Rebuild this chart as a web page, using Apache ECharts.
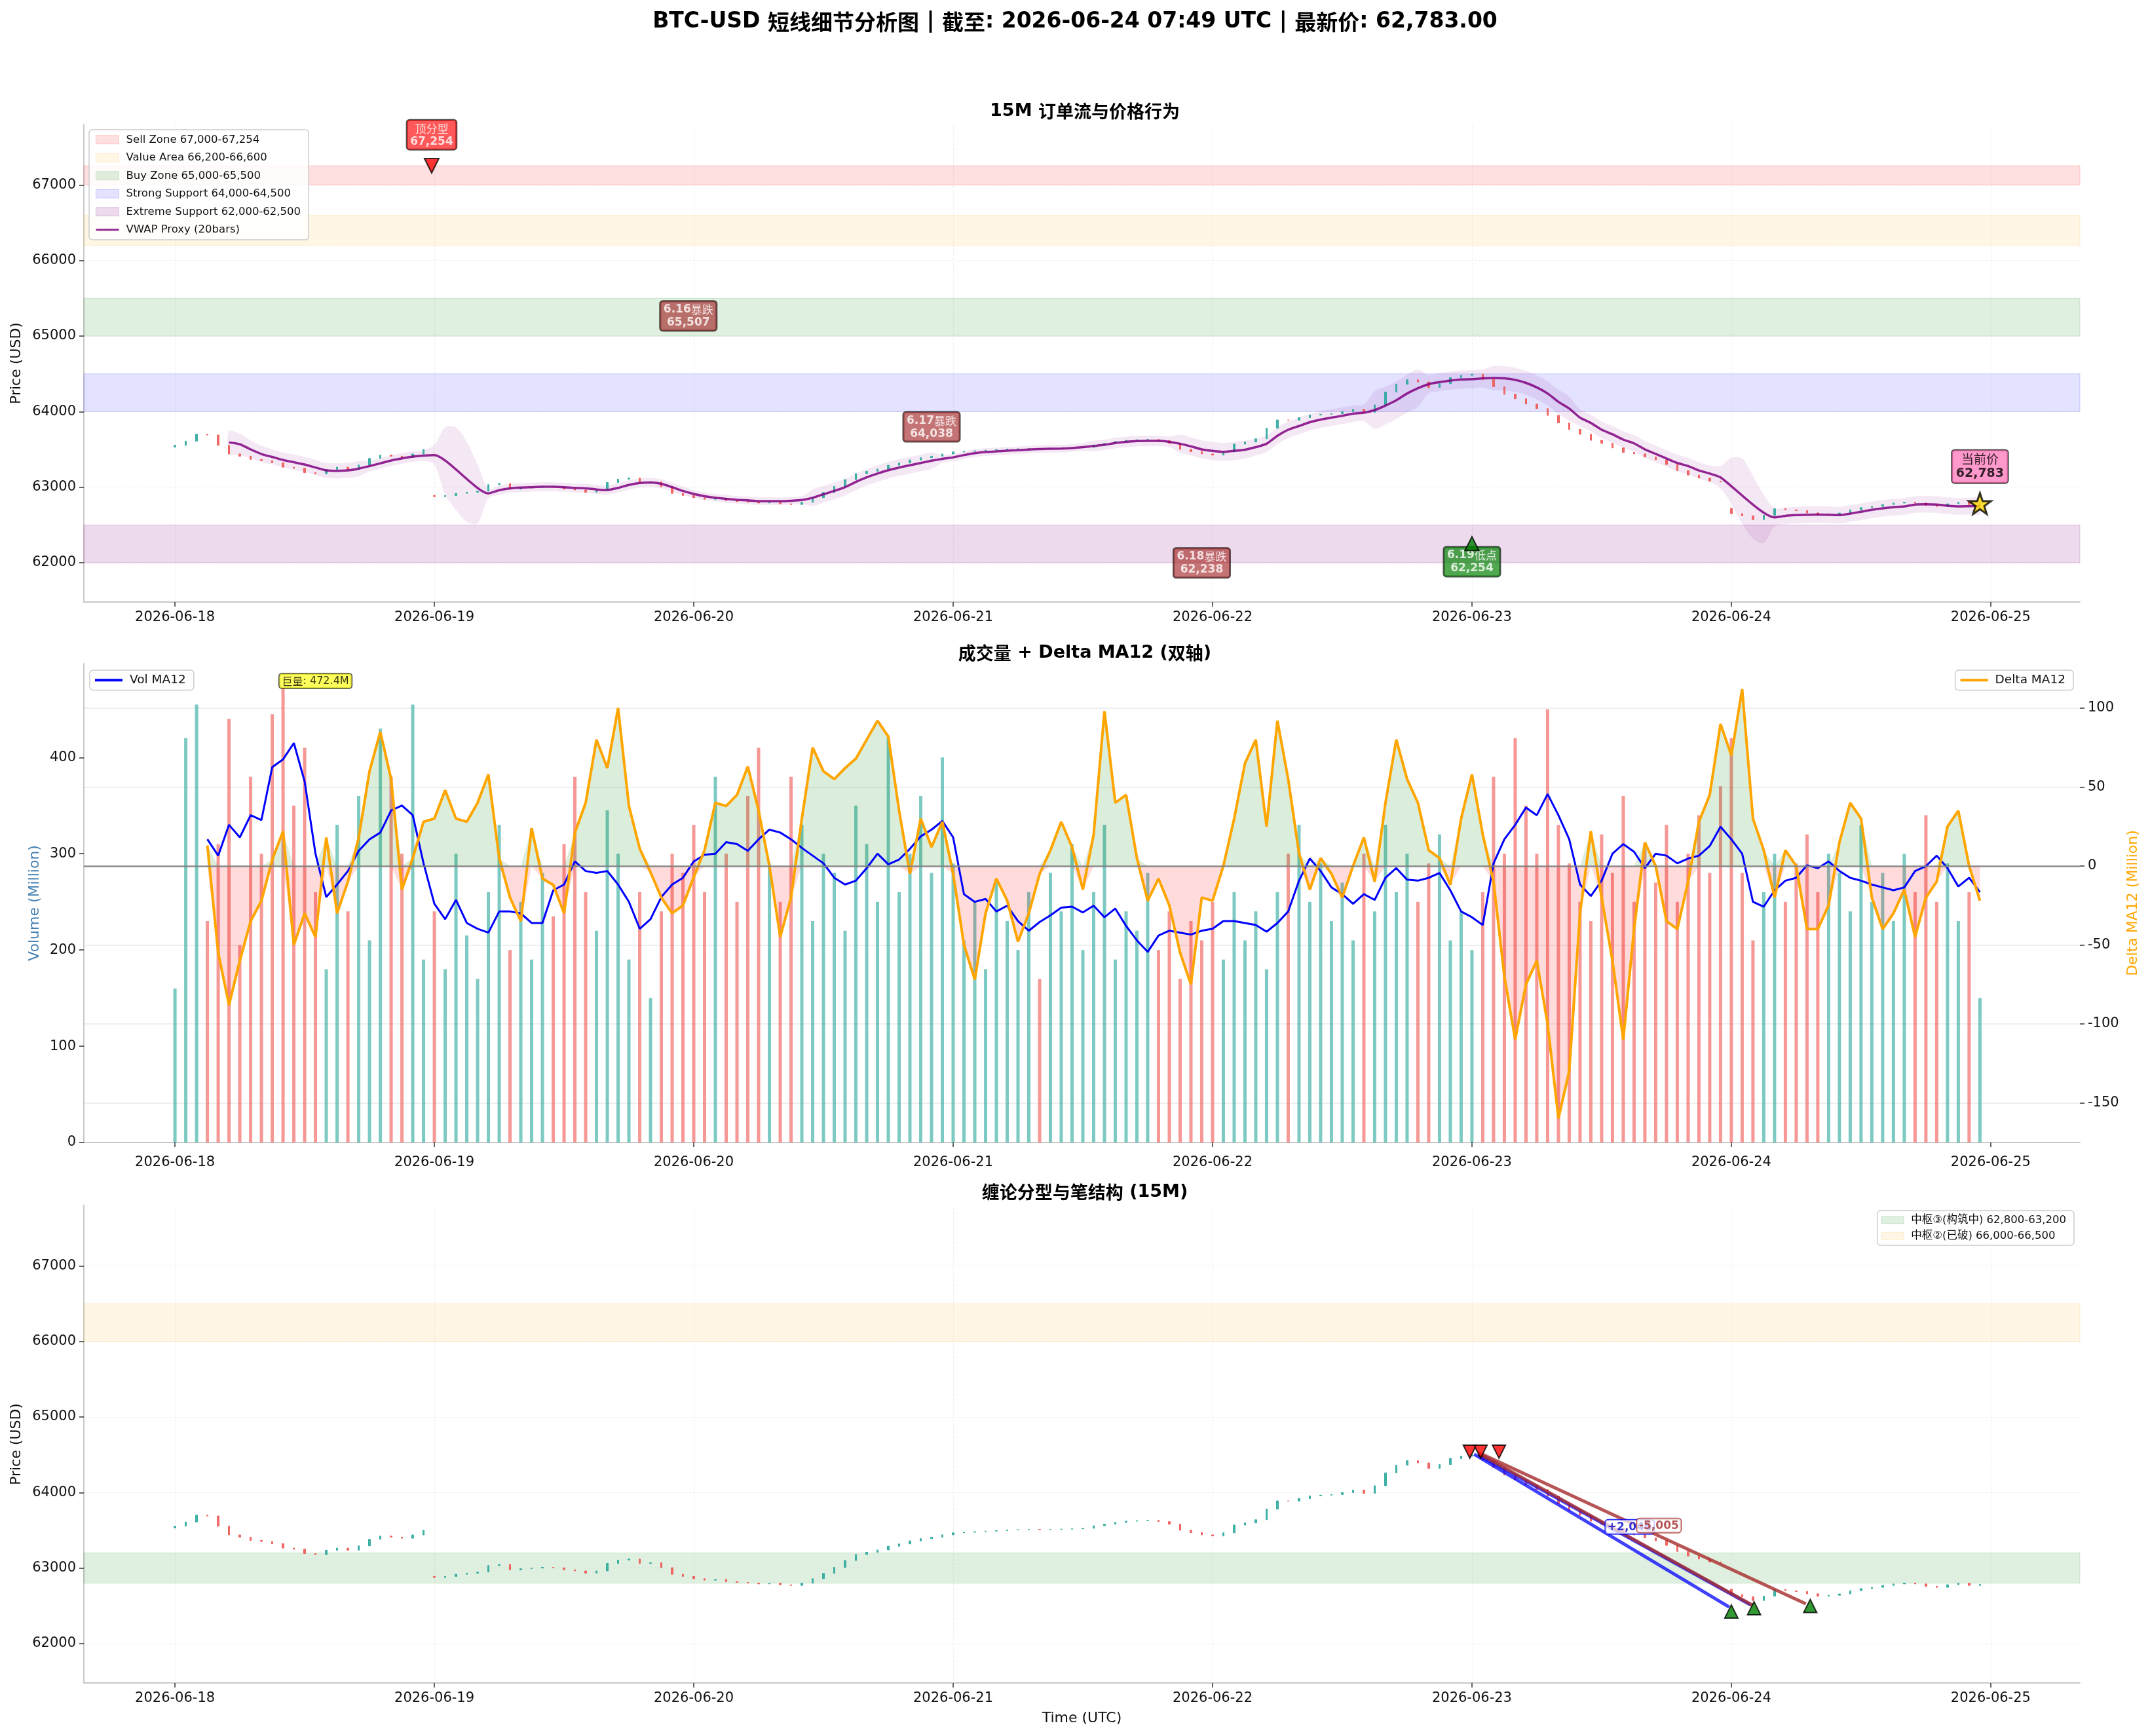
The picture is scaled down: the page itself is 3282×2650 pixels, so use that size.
<!DOCTYPE html>
<html lang="zh-CN">
<head>
<meta charset="utf-8">
<title>BTC-USD 短线细节分析图</title>
<script src="https://cdn.jsdelivr.net/npm/echarts@6.0.0/dist/echarts.min.js"></script>
<style>
  html, body { margin: 0; padding: 0; background: #ffffff; }
  #main { width: 3282px; height: 2650px; }
</style>
</head>
<body>
<div id="main"></div>
<script>
// x = hours since 2026-06-18 00:00 UTC (one bar per hour)
const dayTicks = [0, 24, 48, 72, 96, 120, 144, 168];
const dayLabels = ['2026-06-18', '2026-06-19', '2026-06-20', '2026-06-21', '2026-06-22', '2026-06-23', '2026-06-24', '2026-06-25'];
const priceTicks = [62000, 63000, 64000, 65000, 66000, 67000];
const volTicks = [0, 100, 200, 300, 400];
const deltaTicks = [-150, -100, -50, 0, 50, 100];

const firstOpen = 63530;
const closes = [
  63554, 63610, 63700, 63690, 63554, 63439, 63410, 63366, 63352, 63323, 63265, 63250, 63192, 63178, 63236, 63265, 63236, 63294, 63381, 63424, 63410, 63395, 63439, 63500,
  62875, 62890, 62918, 62933, 62947, 63034, 63048, 62976, 62991, 63000, 63010, 63003, 62976, 62962, 62933, 62962, 63062, 63106, 63120, 63062, 63070, 63005, 62918, 62890,
  62860, 62840, 62850, 62820, 62810, 62800, 62790, 62800, 62780, 62770, 62800, 62860, 62930, 63010, 63100, 63180, 63210, 63240, 63290, 63320, 63360, 63390, 63410, 63440,
  63467, 63475, 63482, 63490, 63496, 63505, 63508, 63513, 63509, 63514, 63515, 63520, 63526, 63560, 63580, 63605, 63620, 63627, 63632, 63615, 63580, 63500, 63470, 63440,
  63424, 63467, 63570, 63598, 63640, 63780, 63890, 63887, 63920, 63955, 63965, 63973, 64000, 64031, 63990, 64090, 64260, 64363, 64421, 64392, 64320, 64370, 64450, 64480,
  64494, 64426, 64330, 64230, 64170, 64100, 64040, 63950, 63850, 63764, 63700, 63620, 63580, 63520, 63460, 63440, 63400, 63362, 63300, 63220, 63160, 63120, 63080, 63070,
  62650, 62620, 62571, 62629, 62716, 62700, 62690, 62660, 62629, 62640, 62658, 62700, 62730, 62745, 62770, 62790, 62802, 62790, 62760, 62745, 62780, 62800, 62770, 62783
];
// bars that open after a data gap
const gapBars = [24, 144];
const gapOpens = [62890, 62720];

const volumes = [
  160, 420, 455, 230, 310, 440, 205, 380, 300, 445, 472.4, 350, 410, 260, 180, 330, 240, 360, 210, 430, 380, 300, 455, 190,
  240, 180, 300, 215, 170, 260, 330, 200, 250, 190, 280, 235, 310, 380, 260, 220, 345, 300, 190, 260, 150, 240, 300, 280,
  330, 260, 380, 300, 250, 360, 410, 290, 250, 380, 330, 230, 300, 280, 220, 350, 310, 250, 420, 260, 300, 360, 280, 400,
  290, 210, 250, 180, 270, 230, 200, 260, 170, 280, 240, 310, 200, 260, 330, 190, 240, 220, 280, 200, 240, 170, 230, 210,
  250, 190, 260, 210, 240, 180, 260, 300, 330, 250, 290, 230, 270, 210, 300, 240, 330, 260, 300, 250, 290, 320, 210, 240,
  200, 260, 380, 300, 420, 350, 300, 450, 330, 290, 250, 230, 320, 280, 360, 250, 310, 270, 330, 250, 300, 340, 280, 370,
  420, 280, 210, 260, 300, 250, 290, 320, 260, 300, 280, 240, 330, 250, 280, 230, 300, 260, 340, 250, 290, 230, 260, 150
];

const volMA = [
  null, null, null, 315, 298, 330, 317, 340, 335, 390, 398, 415, 375, 300, 255, 268, 282, 303, 315, 322, 345, 350, 340, 290,
  248, 232, 252, 228, 222, 218, 240, 240, 238, 228, 228, 262, 268, 292, 282, 280, 282, 268, 250, 222, 232, 255, 268, 275,
  292, 299, 300, 312, 310, 303, 315, 325, 322, 315, 306, 298, 290, 275, 268, 272, 285, 300, 289, 294, 305, 318, 325, 334,
  317, 258, 250, 253, 240, 246, 230, 220, 229, 236, 244, 245, 239, 246, 234, 243, 225, 210, 198, 215, 220, 218, 216, 220,
  222, 230, 230, 228, 226, 219, 228, 240, 272, 295, 282, 265, 258, 248, 258, 252, 275, 285, 273, 272, 275, 280, 262, 240,
  234, 226, 290, 315, 330, 348, 340, 362, 340, 315, 268, 256, 272, 300, 310, 302, 285, 300, 298, 290, 295, 298, 308, 328,
  315, 300, 250, 245, 262, 272, 275, 288, 285, 292, 282, 275, 272, 268, 265, 262, 265, 282, 287, 298, 285, 266, 275, 260
];

const deltaMA = [
  null, null, null, 13, -55, -88, -60, -35, -22, 4, 22, -50, -30, -45, 18, -30, -10, 18, 60, 85, 55, -15, 5, 28,
  30, 48, 30, 28, 40, 58, 5, -20, -35, 24, -8, -12, -30, 21, 40, 80, 62, 100, 38, 11, -4, -20, -30, -25,
  -7, 10, 40, 38, 45, 63, 35, 0, -45, -20, 30, 75, 60, 55, 62, 68, 80, 92, 82, 35, -5, 30, 12, 28,
  -5, -50, -72, -30, -8, -22, -48, -30, -5, 10, 28, 12, -15, 20, 98, 40, 45, 5, -22, -8, -25, -55, -75, -20,
  -22, 0, 30, 65, 80, 25, 92, 55, 8, -15, 5, -5, -20, 0, 18, -10, 40, 80, 55, 40, 10, 5, -12, 30,
  58, 20, -10, -70, -110, -75, -60, -100, -160, -130, -30, 22, -20, -60, -110, -40, 15, 0, -35, -40, -10, 28, 45, 90,
  70, 112, 30, 10, -20, 10, 0, -40, -40, -25, 15, 40, 30, -20, -40, -30, -15, -45, -20, -10, 25, 35, 0, -22
];

// VWAP proxy (20 bars); null where the rolling window spans a data gap
const vwap = [
  null, null, null, null, null, 63592, 63568, 63500, 63439, 63400, 63360, 63330, 63300, 63260, 63222, 63215, 63222, 63245, 63279, 63315, 63352, 63380, 63404, 63418,
  63424, null, null, null, null, 62918, 62960, 62985, 62995, 63000, 63005, 63005, 63000, 62990, 62985, 62970, 62962, 62990, 63030, 63055, 63062, 63045, 63000, 62950,
  62910, 62880, 62860, 62845, 62833, 62825, 62815, 62815, 62815, 62820, 62830, 62860, 62906, 62950, 63000, 63070, 63130, 63180, 63225, 63260, 63290, 63320, 63350, 63375,
  63395, 63425, 63450, 63465, 63473, 63482, 63490, 63498, 63505, 63508, 63511, 63518, 63530, 63545, 63560, 63585, 63600, 63610, 63612, 63612, 63600, 63575, 63540, 63500,
  63480, 63467, 63480, 63496, 63530, 63575, 63680, 63760, 63810, 63860, 63895, 63920, 63945, 63973, 63985, 64020, 64080, 64150, 64240, 64310, 64363, 64390, 64410, 64425,
  64430, 64440, 64445, 64440, 64420, 64380, 64320, 64240, 64130, 64040, 63920, 63850, 63760, 63700, 63630, 63580, 63500, 63440, 63380, 63320, 63280, 63222, 63180, 63130,
  null, null, null, null, 62600, 62620, 62630, 62635, 62638, 62635, 62630, 62650, 62675, 62700, 62720, 62735, 62745, 62770, 62774, 62770, 62755, 62745, 62748, 62751
];
// half width of the shaded band around the VWAP
const bandHalf = [
  null, null, null, null, null, 150, 140, 120, 110, 100, 100, 100, 100, 100, 100, 100, 100, 100, 70, 70, 70, 70, 70, 70,
  70, null, null, null, null, 60, 60, 60, 60, 60, 60, 60, 60, 60, 60, 60, 60, 60, 60, 60, 60, 60, 60, 60,
  50, 50, 50, 50, 50, 50, 50, 50, 50, 50, 50, 110, 110, 110, 110, 110, 110, 110, 110, 110, 110, 110, 110, 50,
  50, 50, 50, 50, 50, 50, 50, 50, 50, 50, 50, 50, 50, 70, 70, 70, 70, 70, 70, 70, 70, 120, 120, 120,
  120, 120, 120, 120, 110, 110, 110, 110, 110, 110, 110, 110, 110, 110, 110, 250, 250, 250, 250, 250, 120, 120, 120, 120,
  120, 120, 160, 160, 160, 160, 160, 160, 160, 160, 110, 110, 110, 110, 110, 110, 110, 110, 110, 110, 110, 110, 110, 150,
  null, null, null, null, 110, 110, 110, 110, 110, 110, 110, 110, 110, 110, 110, 110, 110, 110, 110, 110, 110, 110, 110, 110
];
// band bulges across the two data gaps
const bulgeHours = [24, 25, 26, 27, 28, 29, 143, 144, 145, 146, 147, 148];
const bulgeUp = [63560, 63790, 63790, 63600, 63300, 62980, 63280, 63390, 63380, 63150, 62900, 62720];
const bulgeLo = [63300, 62900, 62700, 62540, 62520, 62850, 62980, 62780, 62520, 62320, 62260, 62480];

// price zones, panel 1
const zoneTitles = ['Sell Zone', 'Value Area', 'Buy Zone', 'Strong Support', 'Extreme Support'];
const zoneLow = [67000, 66200, 65000, 64000, 62000];
const zoneHigh = [67254, 66600, 65500, 64500, 62500];
// pivot zones, panel 3
const pivotTitles = ['中枢③(构筑中)', '中枢②(已破)'];
const pivotLow = [62800, 66000];
const pivotHigh = [63200, 66500];

// event notes, panel 1
const eventDates = ['6.16', '6.17', '6.18', '6.19'];
const eventTags = ['暴跌', '暴跌', '暴跌', '低点'];
const eventPrices = [65507, 64038, 62238, 62254];
const eventHours = [47.5, 70, 95, 120];
const topFractalHour = 23.75;
const topFractalPrice = 67254;

// chan fractals and strokes, panel 3
const topFxHours = [119.8, 120.8, 122.5];
const topFxPrices = [64541, 64541, 64541];
const botFxHours = [144, 146.1, 151.3];
const botFxPrices = [62426, 62469, 62498];
const biStartHours = [120.2, 120.6, 120.6, 120.9];
const biStartPrices = [64507, 64498, 64518, 64510];
const biEndHours = [143.8, 145.8, 146.0, 150.9];
const biEndPrices = [62484, 62512, 62505, 62527];
const biKinds = ['up', 'up', 'down', 'down'];
const biTexts = ['+2,046', '-5,005'];
const biTextHours = [134.6, 137.3];
const biTextPrices = [63546, 63563];

// ---------- layout / style ----------
const X_MIN = -8.43, X_MAX = 176.25;
const P_MIN = 61480, P_MAX = 67800;
const V_MAX = 497.5;
const D_MIN = -175.2, D_MAX = 128.2;
const LAT = '"DejaVu Sans", sans-serif';
const CJK = '"Noto Sans CJK SC", sans-serif';
const MIX = '"DejaVu Sans", "Noto Sans CJK SC", sans-serif';
const LINE_ICON = 'path://M0,0 H100 V9 H0 Z';
const zoneFill = ['rgba(255,0,0,0.12)', 'rgba(255,165,0,0.10)', 'rgba(0,128,0,0.12)', 'rgba(0,0,255,0.11)', 'rgba(128,0,128,0.14)'];
const zoneEdge = ['rgba(255,0,0,0.18)', 'rgba(255,165,0,0.16)', 'rgba(0,128,0,0.16)', 'rgba(0,0,255,0.18)', 'rgba(128,0,128,0.2)'];
const pivotFill = ['rgba(0,128,0,0.12)', 'rgba(255,165,0,0.10)'];
const pivotEdge = ['rgba(0,128,0,0.16)', 'rgba(255,165,0,0.16)'];

const fmt = v => v.toLocaleString('en-US');
const grids = [
  { left: 128, right: 107, top: 190, height: 729 },
  { left: 128, right: 107, top: 1013, height: 731 },
  { left: 128, right: 107, top: 1840, height: 729 }
];

// ---------- derived series ----------
const candles = closes.map((c, i) => {
  const g = gapBars.indexOf(i);
  const o = g >= 0 ? gapOpens[g] : (i === 0 ? firstOpen : closes[i - 1]);
  return [i, o, c, Math.min(o, c), Math.max(o, c)];
});
const pair = arr => arr.map((v, i) => [i, v == null ? '-' : v]);
const bandUp = vwap.map((v, i) => v == null ? null : v + bandHalf[i]);
const bandLo = vwap.map((v, i) => v == null ? null : v - bandHalf[i]);
bulgeHours.forEach((h, k) => { bandUp[h] = bulgeUp[k]; bandLo[h] = bulgeLo[k]; });
// contiguous runs of hours that have a band value
const bandRuns = [];
bandUp.forEach((u, i) => {
  if (u == null || bandLo[i] == null) return;
  const run = bandRuns[bandRuns.length - 1];
  if (run && run[1] === i - 1) run[1] = i; else bandRuns.push([i, i]);
});
const volBars = volumes.map((v, i) => ({
  value: [i, v],
  itemStyle: { color: candles[i][2] >= candles[i][1] ? 'rgba(38,166,154,0.6)' : 'rgba(239,83,80,0.6)' }
}));
const deltaPos = deltaMA.map((d, i) => [i, d == null ? '-' : Math.max(d, 0)]);
const deltaNeg = deltaMA.map((d, i) => [i, d == null ? '-' : Math.min(d, 0)]);
const maxVol = Math.max(...volumes);
const maxVolIdx = volumes.indexOf(maxVol);
const lastIdx = closes.length - 1;
const lastClose = closes[lastIdx];

// ---------- axes ----------
function xAxis(gi, extra) {
  return Object.assign({
    type: 'value', gridIndex: gi, min: X_MIN, max: X_MAX,
    axisLine: { show: true, onZero: false, lineStyle: { color: '#c8c8c8', width: 2 } },
    axisTick: { show: true, customValues: dayTicks, length: 7, lineStyle: { color: '#333', width: 1.5 } },
    axisLabel: { show: true, customValues: dayTicks, formatter: v => dayLabels[Math.round(v / 24)], fontSize: 21, color: '#111', fontFamily: LAT, margin: 13 },
    splitLine: { show: gi !== 1, lineStyle: { color: '#ececec', width: 1, type: 'dotted' } }
  }, extra || {});
}
function yAxis(gi, min, max, ticks, name, nameColor, nameGap, extra) {
  return Object.assign({
    type: 'value', gridIndex: gi, min, max,
    name, nameLocation: 'middle', nameGap, nameTextStyle: { fontSize: 22, color: nameColor, fontFamily: LAT },
    axisLine: { show: true, onZero: false, lineStyle: { color: '#c8c8c8', width: 2 } },
    axisTick: { show: true, customValues: ticks, length: 7, lineStyle: { color: '#333', width: 1.5 } },
    axisLabel: { show: true, customValues: ticks, formatter: v => String(v), fontSize: 21, color: '#111', fontFamily: LAT, margin: 12 },
    splitLine: { show: true, lineStyle: { color: '#ececec', width: 1, type: 'dotted' } }
  }, extra || {});
}

// ---------- helpers ----------
function zoneSeries(name, lo, hi, fill, edge, axisIdx) {
  return {
    name, type: 'line', xAxisIndex: axisIdx[0], yAxisIndex: axisIdx[1], data: [], symbol: 'none',
    itemStyle: { color: fill }, lineStyle: { width: 0 }, silent: true,
    markArea: { silent: true, itemStyle: { color: fill, borderColor: edge, borderWidth: 1 }, data: [[{ yAxis: lo }, { yAxis: hi }]] }
  };
}
function tag(text, bg, fg, size, border, pad) {
  return {
    show: true, position: 'inside', formatter: text,
    backgroundColor: bg, borderColor: border, borderWidth: 1.5, borderRadius: 4,
    padding: pad || [3, 5, 2, 5], align: 'center',
    rich: {
      b: { color: fg, fontSize: size, fontWeight: 'bold', fontFamily: LAT, lineHeight: size + 3, align: 'center' },
      z: { color: fg, fontSize: size, fontFamily: CJK, lineHeight: size + 3, align: 'center' },
      r: { color: fg, fontSize: size, fontFamily: LAT, lineHeight: size + 3, align: 'center' }
    }
  };
}
function noteItem(x, y, label) {
  return { value: [x, y], label };
}
function candleSeries(xi, yi) {
  return {
    type: 'candlestick', xAxisIndex: xi, yAxisIndex: yi, data: candles, barWidth: 3, silent: true,
    itemStyle: { color: 'rgba(38,166,154,0.85)', color0: 'rgba(239,83,80,0.85)', borderColor: 'rgba(38,166,154,0.85)', borderColor0: 'rgba(239,83,80,0.85)', borderWidth: 1 }
  };
}

const series = [];
// ===== panel 1 =====
zoneTitles.forEach((t, k) => series.push(zoneSeries(`${t} ${fmt(zoneLow[k])}-${fmt(zoneHigh[k])}`, zoneLow[k], zoneHigh[k], zoneFill[k], zoneEdge[k], [0, 0])));
// VWAP band: one smoothed polygon per contiguous run
series.push({
  type: 'custom', xAxisIndex: 0, yAxisIndex: 0, silent: true, z: 2,
  data: bandRuns.map(r => [r[0], r[1]]),
  renderItem: (params, api) => {
    const a = api.value(0), b = api.value(1);
    const top = [], bottom = [];
    for (let i = a; i <= b; i++) {
      top.push(api.coord([i, bandUp[i]]));
      bottom.push(api.coord([i, bandLo[i]]));
    }
    return { type: 'polygon', shape: { points: top.concat(bottom.reverse()), smooth: 0.3 }, style: { fill: 'rgba(128,0,128,0.09)' } };
  }
});
series.push(candleSeries(0, 0));
series.push({ name: 'VWAP Proxy (20bars)', type: 'line', xAxisIndex: 0, yAxisIndex: 0, data: pair(vwap), connectNulls: true, symbol: 'none', smooth: 0.2, itemStyle: { color: '#800080' }, lineStyle: { color: '#800080', width: 3.5, opacity: 0.85 }, z: 3 });
series.push({
  type: 'scatter', xAxisIndex: 0, yAxisIndex: 0, symbolSize: 1, itemStyle: { color: 'transparent' }, z: 5, silent: true,
  data: eventDates.map((d, k) => noteItem(eventHours[k], eventPrices[k] - 240,
    tag(`{b|${d}}{z|${eventTags[k]}}\n{b|${fmt(eventPrices[k])}}`, eventTags[k] === '低点' ? 'rgba(0,128,0,0.85)' : 'rgba(165,42,42,0.82)', '#ffffff', 17, 'rgba(0,0,0,0.85)')))
    .concat([
      noteItem(topFractalHour, topFractalPrice + 410, tag(`{z|顶分型}\n{b|${fmt(topFractalPrice)}}`, 'rgba(255,0,0,0.82)', '#ffffff', 17, 'rgba(0,0,0,0.85)')),
      noteItem(lastIdx, lastClose + 490, tag(`{z|当前价}\n{b|${fmt(lastClose)}}`, 'rgba(255,105,180,0.85)', '#000000', 19, 'rgba(0,0,0,0.9)', [3, 6, 3, 6]))
    ])
});
series.push({ type: 'scatter', xAxisIndex: 0, yAxisIndex: 0, symbol: 'triangle', symbolRotate: 180, symbolSize: 22, itemStyle: { color: '#ff0000', borderColor: '#000', borderWidth: 2 }, z: 6, data: [[topFractalHour, topFractalPrice]], silent: true });
series.push({ type: 'scatter', xAxisIndex: 0, yAxisIndex: 0, symbol: 'triangle', symbolSize: 21, itemStyle: { color: '#008000', borderColor: '#000', borderWidth: 2 }, z: 6, data: [[eventHours[3], eventPrices[3]]], silent: true });
series.push({ type: 'scatter', xAxisIndex: 0, yAxisIndex: 0, symbol: 'path://M50,0 L61.8,35.1 L98.1,35.1 L68.8,56.7 L79.4,91 L50,70 L20.6,91 L31.2,56.7 L1.9,35.1 L38.2,35.1 Z', symbolKeepAspect: true, symbolSize: 34, itemStyle: { color: '#ffd700', borderColor: '#000', borderWidth: 3 }, z: 7, data: [[lastIdx, lastClose]], silent: true });

// ===== panel 2 =====
series.push({ type: 'bar', xAxisIndex: 1, yAxisIndex: 1, data: volBars, barWidth: 5, silent: true });
series.push({ name: 'Vol MA12', type: 'line', xAxisIndex: 1, yAxisIndex: 1, data: pair(volMA), symbol: 'none', itemStyle: { color: '#0000ff' }, lineStyle: { color: '#0000ff', width: 3 }, z: 3 });
series.push({ type: 'line', xAxisIndex: 1, yAxisIndex: 2, data: deltaPos, symbol: 'none', lineStyle: { width: 0 }, areaStyle: { color: 'rgba(0,128,0,0.2)' }, silent: true, z: 3 });
series.push({ type: 'line', xAxisIndex: 1, yAxisIndex: 2, data: deltaNeg, symbol: 'none', lineStyle: { width: 0 }, areaStyle: { color: 'rgba(255,0,0,0.2)' }, silent: true, z: 3 });
series.push({
  name: 'Delta MA12', type: 'line', xAxisIndex: 1, yAxisIndex: 2, data: pair(deltaMA), symbol: 'none', itemStyle: { color: '#ffa500' }, lineStyle: { color: '#ffa500', width: 4 }, z: 4,
  markLine: { silent: true, symbol: ['none', 'none'], label: { show: false }, lineStyle: { color: '#7f7f7f', width: 2.5, type: 'solid', opacity: 0.9 }, data: [{ yAxis: 0 }] }
});
series.push({
  type: 'scatter', xAxisIndex: 1, yAxisIndex: 1, symbolSize: 1, itemStyle: { color: 'transparent' }, z: 6, silent: true,
  data: [noteItem(maxVolIdx + 3, maxVol * 1.015, tag(`{z|巨量}{r|: ${maxVol.toFixed(1)}M}`, '#ffff33', '#000000', 16, 'rgba(0,0,0,0.85)', [2, 4, 1, 4]))]
});

// ===== panel 3 =====
pivotTitles.forEach((t, k) => series.push(zoneSeries(`${t} ${fmt(pivotLow[k])}-${fmt(pivotHigh[k])}`, pivotLow[k], pivotHigh[k], pivotFill[k], pivotEdge[k], [2, 3])));
series.push(candleSeries(2, 3));
biKinds.forEach((kind, k) => series.push({
  type: 'line', xAxisIndex: 2, yAxisIndex: 3, symbol: 'none', silent: true, z: 4,
  data: [[biStartHours[k], biStartPrices[k]], [biEndHours[k], biEndPrices[k]]],
  lineStyle: { color: kind === 'up' ? 'rgba(0,0,255,0.75)' : 'rgba(165,42,42,0.8)', width: 5 }
}));
series.push({ type: 'scatter', xAxisIndex: 2, yAxisIndex: 3, symbol: 'triangle', symbolRotate: 180, symbolSize: 20, itemStyle: { color: '#ff0000', borderColor: '#000', borderWidth: 2 }, z: 6, silent: true, data: topFxHours.map((h, k) => [h, topFxPrices[k]]) });
series.push({ type: 'scatter', xAxisIndex: 2, yAxisIndex: 3, symbol: 'triangle', symbolSize: 20, itemStyle: { color: '#008000', borderColor: '#000', borderWidth: 2 }, z: 6, silent: true, data: botFxHours.map((h, k) => [h, botFxPrices[k]]) });
series.push({
  type: 'scatter', xAxisIndex: 2, yAxisIndex: 3, symbolSize: 1, itemStyle: { color: 'transparent' }, z: 7, silent: true,
  data: biTexts.map((t, k) => noteItem(biTextHours[k], biTextPrices[k],
    tag(`{b|${t}}`, 'rgba(255,255,255,0.9)', k === 0 ? '#0000cc' : '#a52a2a', 17, k === 0 ? '#0000ff' : '#a52a2a', [1, 3, 0, 3])))
});

// ---------- option ----------
const legendText = size => ({ fontSize: size, color: '#111', fontFamily: MIX, padding: [0, 0, 0, 6] });
const legendBox = { backgroundColor: 'rgba(255,255,255,0.85)', borderColor: '#cccccc', borderWidth: 1.5, borderRadius: 5, selectedMode: false, symbolKeepAspect: true };
const option = {
  animation: false,
  backgroundColor: '#ffffff',
  title: [
    { left: 'center', top: 12, text: '{b|BTC-USD }{c|短线细节分析图}{b| | }{c|截至}{b|: 2026-06-24 07:49 UTC | }{c|最新价}{b|: 62,783.00}',
      textStyle: { rich: { b: { fontSize: 33, fontWeight: 'bold', fontFamily: LAT, color: '#000' }, c: { fontSize: 33, fontFamily: CJK, color: '#000' } } } },
    { left: 1651, top: 151, textAlign: 'center', textVerticalAlign: 'top', text: '{b|15M }{c|订单流与价格行为}',
      textStyle: { rich: { b: { fontSize: 27, fontWeight: 'bold', fontFamily: LAT, color: '#000' }, c: { fontSize: 27, fontFamily: CJK, color: '#000' } } } },
    { left: 1651, top: 978, textAlign: 'center', textVerticalAlign: 'top', text: '{c|成交量}{b| + Delta MA12 (}{c|双轴}{b|)}',
      textStyle: { rich: { b: { fontSize: 27, fontWeight: 'bold', fontFamily: LAT, color: '#000' }, c: { fontSize: 27, fontFamily: CJK, color: '#000' } } } },
    { left: 1651, top: 1801, textAlign: 'center', textVerticalAlign: 'top', text: '{c|缠论分型与笔结构}{b| (15M)}',
      textStyle: { rich: { b: { fontSize: 27, fontWeight: 'bold', fontFamily: LAT, color: '#000' }, c: { fontSize: 27, fontFamily: CJK, color: '#000' } } } }
  ],
  legend: [
    Object.assign({
      left: 136, top: 198, orient: 'vertical', itemGap: 11, itemWidth: 35, itemHeight: 13, padding: [7, 12, 7, 10], textStyle: legendText(16.5),
      data: zoneTitles.map((t, k) => ({ name: `${t} ${fmt(zoneLow[k])}-${fmt(zoneHigh[k])}`, icon: 'rect', itemStyle: { color: zoneFill[k], borderColor: zoneEdge[k], borderWidth: 1 } }))
        .concat([{ name: 'VWAP Proxy (20bars)', icon: LINE_ICON, itemStyle: { color: '#800080', opacity: 0.85 } }])
    }, legendBox),
    Object.assign({ left: 137, top: 1023, itemWidth: 42, itemHeight: 14, padding: [6, 12, 6, 8], textStyle: legendText(18.5),
      data: [{ name: 'Vol MA12', icon: LINE_ICON, itemStyle: { color: '#0000ff' } }] }, legendBox),
    Object.assign({ right: 117, top: 1023, itemWidth: 42, itemHeight: 14, padding: [6, 12, 6, 8], textStyle: legendText(18.5),
      data: [{ name: 'Delta MA12', icon: LINE_ICON, itemStyle: { color: '#ffa500' } }] }, legendBox),
    Object.assign({
      right: 116, top: 1848, orient: 'vertical', itemGap: 8, itemWidth: 34, itemHeight: 11, padding: [6, 12, 6, 6], textStyle: legendText(16.5),
      data: pivotTitles.map((t, k) => ({ name: `${t} ${fmt(pivotLow[k])}-${fmt(pivotHigh[k])}`, icon: 'rect', itemStyle: { color: pivotFill[k], borderColor: pivotEdge[k], borderWidth: 1 } }))
    }, legendBox)
  ],
  grid: grids.map(g => Object.assign({ outerBoundsMode: 'none' }, g)),
  xAxis: [
    xAxis(0),
    xAxis(1, { axisLabel: { show: true, customValues: dayTicks, formatter: v => dayLabels[Math.round(v / 24)], fontSize: 21, color: '#111', fontFamily: LAT, margin: 20 } }),
    xAxis(2, { name: 'Time (UTC)', nameLocation: 'middle', nameGap: 43, nameTextStyle: { fontSize: 22, color: '#111', fontFamily: LAT } })
  ],
  yAxis: [
    yAxis(0, P_MIN, P_MAX, priceTicks, 'Price (USD)', '#111', 92),
    yAxis(1, 0, V_MAX, volTicks, 'Volume (Million)', '#4682b4', 64, { splitLine: { show: false } }),
    yAxis(1, D_MIN, D_MAX, deltaTicks, 'Delta MA12 (Million)', '#ffa500', 66, {
      position: 'right', axisLine: { show: false, onZero: false },
      splitLine: { show: true, lineStyle: { color: '#eaeaea', width: 1.5, type: 'solid' } }
    }),
    yAxis(2, P_MIN, P_MAX, priceTicks, 'Price (USD)', '#111', 92)
  ],
  series
};

const chart = echarts.init(document.getElementById('main'), null, { renderer: 'canvas', width: 3282, height: 2650 });
chart.setOption(option);
window.addEventListener('resize', () => chart.resize());
</script>
</body>
</html>
